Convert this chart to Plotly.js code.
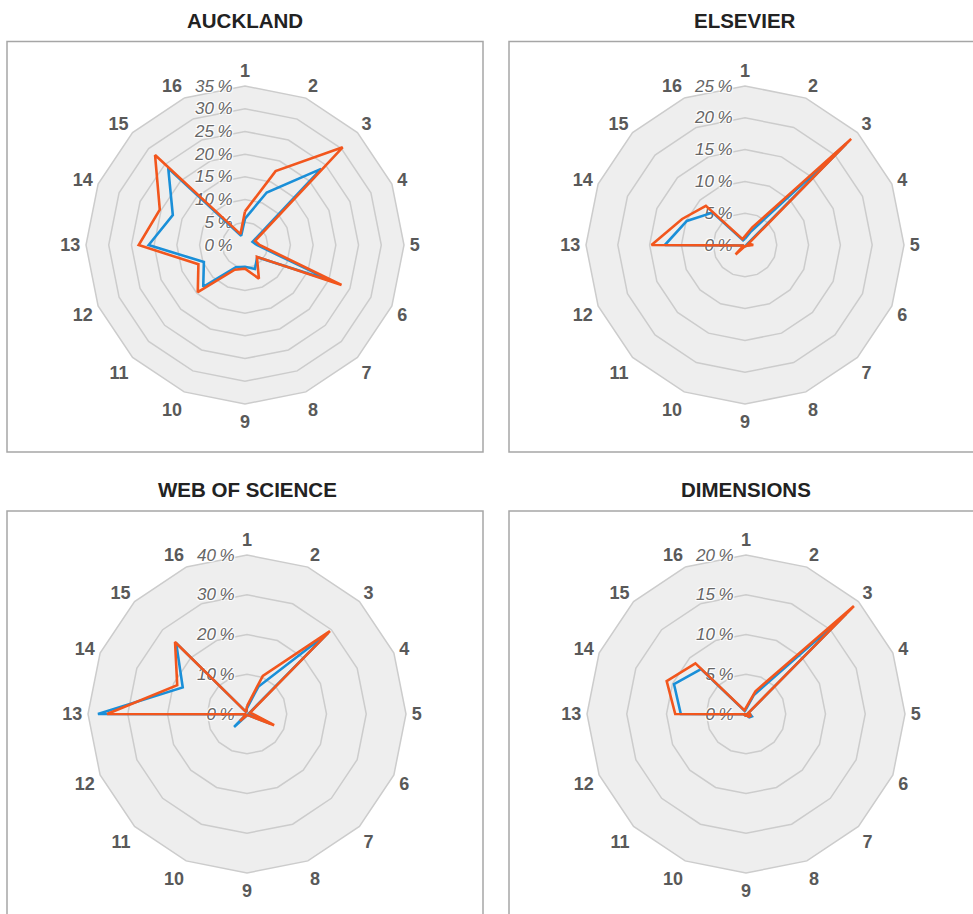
<!DOCTYPE html>
<html><head><meta charset="utf-8">
<script src="https://cdn.plot.ly/plotly-3.0.1.min.js"></script>
<style>html,body{margin:0;padding:0;background:#fff}</style>
</head><body><div id="chart" style="width:973px;height:914px"></div>
<script>
const categories = ['1','2','3','4','5','6','7','8','9','10','11','12','13','14','15','16'];
const panelTitles = ['AUCKLAND','ELSEVIER','WEB OF SCIENCE','DIMENSIONS'];

const aucklandBlue   = [5.8, 12.5, 23.7, 1.8, 2.6, 20.5, 3.8, 5.7, 4.8, 5.3, 13.0, 9.8, 21.2, 17.2, 23.9, 2.2];
const aucklandOrange = [7.4, 17.6, 30.4, 2.4, 3.2, 23.0, 3.7, 8.0, 5.2, 5.9, 14.7, 11.1, 23.4, 20.3, 28.0, 2.6];

const elsevierBlue   = [1.0, 2.2, 22.5, 0.4, 0.8, 0.2, 0.2, 0.2, 0.2, 0.2, 0.5, 0.2, 12.6, 9.9, 7.2, 0.8];
const elsevierOrange = [1.4, 3.0, 23.6, 0.6, 1.3, 0.3, 0.2, 0.2, 0.2, 0.3, 2.1, 0.2, 14.7, 10.7, 8.7, 1.0];

const wosBlue   = [1.5, 7.4, 28.8, 0.6, 1.2, 6.5, 0.4, 0.3, 0.3, 0.6, 4.6, 0.2, 37.5, 17.5, 25.2, 0.5];
const wosOrange = [2.0, 10.4, 29.5, 0.8, 1.5, 7.4, 0.5, 0.3, 0.3, 0.5, 2.5, 0.2, 35.2, 19.0, 25.6, 0.5];

const dimBlue   = [0.6, 2.6, 17.8, 0.3, 0.5, 0.8, 0.6, 0.2, 0.2, 0.2, 0.2, 0.1, 8.2, 9.8, 8.0, 0.4];
const dimOrange = [0.8, 3.1, 19.2, 0.3, 0.5, 0.6, 0.5, 0.2, 0.2, 0.2, 0.2, 0.1, 8.9, 10.8, 9.0, 0.5];

const radialMax  = [35, 25, 40, 20];
const radialStep = [5, 5, 10, 5];

const W = 973, H = 914, R = 159;
const centers = [[245, 245], [745, 245], [247, 714], [746, 714]];
const BLUE = '#1a8fd8', ORANGE = '#f2561d';
const FONT = 'Liberation Sans, Arial, Helvetica, sans-serif';

const seriesPairs = [[aucklandBlue, aucklandOrange],[elsevierBlue, elsevierOrange],[wosBlue, wosOrange],[dimBlue, dimOrange]];

function close(a){ return a.concat([a[0]]); }
const theta = close(categories);

const data = [];
seriesPairs.forEach((pair, i) => {
  const sub = i === 0 ? 'polar' : 'polar' + (i + 1);
  [[pair[0], BLUE], [pair[1], ORANGE]].forEach(([vals, col]) => {
    data.push({type:'scatterpolar', mode:'lines', r: close(vals), theta: theta,
      subplot: sub, line:{color: col, width: 2.6}, showlegend:false, hoverinfo:'skip'});
  });
});

const layout = {width: W, height: H, margin:{l:0,r:0,t:0,b:0}, paper_bgcolor:'#fff', showlegend:false,
  annotations: [], shapes: []};

centers.forEach(([cx, cy], i) => {
  const key = i === 0 ? 'polar' : 'polar' + (i + 1);
  layout[key] = {
    domain: {x: [(cx - R) / W, (cx + R) / W], y: [1 - (cy + R) / H, 1 - (cy - R) / H]},
    bgcolor: '#eeeeee', gridshape: 'linear',
    radialaxis: {range: [0, radialMax[i]], dtick: radialStep[i], tick0: 0, angle: 90, side: 'counterclockwise',
      showline: false, ticks: 'outside', ticklen: 6, tickcolor: 'rgba(0,0,0,0)',
      gridcolor: '#cccccc', gridwidth: 1.5, ticksuffix: '\u2009%', tickangle: 90,
      layer: 'below traces',
      tickfont: {family: FONT, size: 17, color: '#666666', style: 'italic',
        shadow: '1px 1px 1px #fff, -1px -1px 1px #fff, 1px -1px 1px #fff, -1px 1px 1px #fff'}},
    angularaxis: {type: 'category', categoryarray: categories, direction: 'clockwise', rotation: 90,
      showgrid: false, showline: true,
      linecolor: '#cccccc', linewidth: 1.5, ticks: 'outside', ticklen: 1.5, tickcolor: 'rgba(0,0,0,0)',
      layer: 'below traces',
      tickfont: {family: FONT, size: 18, color: '#595959', weight: 'bold'}}
  };
  const left = i % 2 === 0;
  const top = i < 2;
  const bx0 = left ? 7 : 509, bx1 = left ? 483 : 990;
  const by0 = top ? 41.5 : 511, by1 = top ? 452 : 930;
  layout.shapes.push({type:'rect', xref:'paper', yref:'paper', x0: bx0 / W, x1: bx1 / W,
    y0: 1 - by1 / H, y1: 1 - by0 / H, line:{color:'#a6a6a6', width:1.5}, fillcolor:'rgba(0,0,0,0)'});
  layout.annotations.push({text: '<b>' + panelTitles[i] + '</b>', xref:'paper', yref:'paper',
    x: cx / W, y: 1 - (top ? 21 : 489) / H, xanchor:'center', yanchor:'middle', showarrow:false,
    font:{family: FONT, size: 20.5, color:'#222222'}});
});

Plotly.newPlot('chart', data, layout, {staticPlot: true, displayModeBar: false});
</script>
</body></html>
